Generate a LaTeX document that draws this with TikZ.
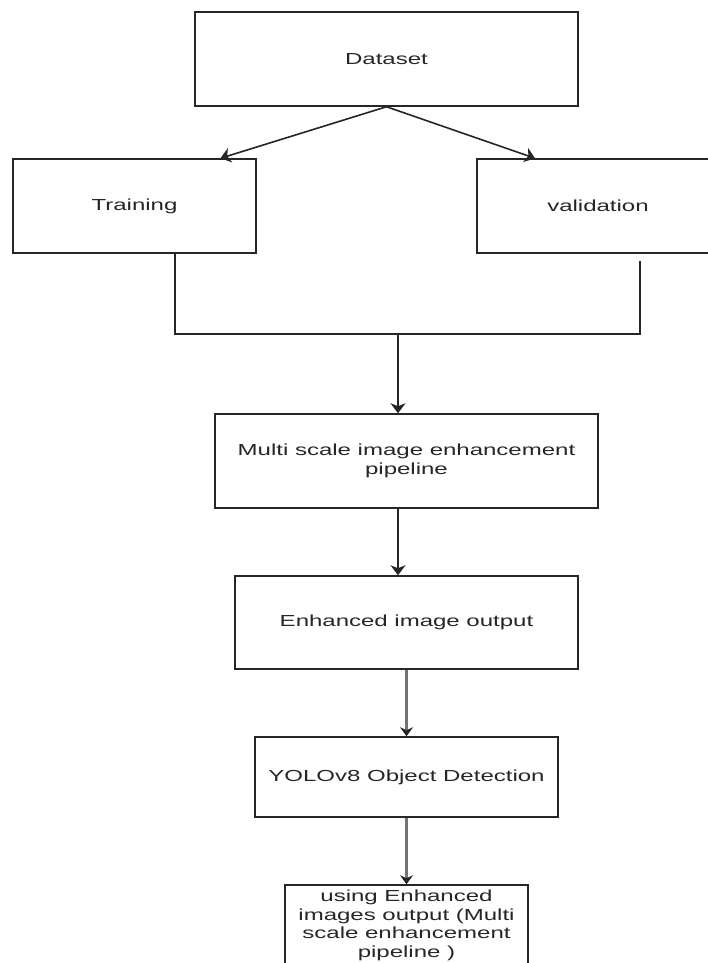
\documentclass[tikz,border=0pt]{standalone}
\usepackage{fontspec}
\setmainfont{Liberation Sans}[FakeStretch=1.5]
\usetikzlibrary{calc}
\usetikzlibrary{arrows.meta}
\tikzset{
  stage/.style = {draw=black!85, line width=1.5pt, rectangle, align=center, inner sep=0pt,
    text=black!85, font=\fontsize{16}{18.5}\selectfont},
  link/.style = {draw=black!85, line width=1.6pt},
  flow/.style = {link, -{Stealth[length=10pt,width=15pt,inset=3pt]}},
  gflow/.style = {draw=black!55, line width=2.4pt, -{Stealth[length=9pt,width=13pt,inset=3pt,color=black!85]}},
}

\begin{document}
\begin{tikzpicture}[x=1pt,y=-1pt]
  \path[use as bounding box, fill=white] (0,0) rectangle (708,963);

  \node[stage, minimum width=383pt, minimum height=94pt] (dataset) at (386.5,59) {Dataset};
  \node[stage, minimum width=243pt, minimum height=94pt] (train) at (134.5,206) {Training};
  \node[stage, minimum width=242pt, minimum height=94pt] (valid) at (598,206) {validation};
  \node[stage, minimum width=383pt, minimum height=94pt] (multi) at (406.5,461) {Multi scale image enhancement\\pipeline};
  \node[stage, minimum width=343pt, minimum height=93pt] (enhanced) at (406.5,622.5) {Enhanced image output};
  \node[stage, minimum width=303pt, minimum height=80pt] (yolo) at (406.5,777) {YOLOv8 Object Detection};
  \node[stage, minimum width=243pt, minimum height=81pt] (result) at (406.5,925.5) {using Enhanced\\images output (Multi\\scale enhancement\\pipeline )};

  \coordinate (join) at (398,334);

  % split of the dataset
  \path[flow] (dataset.south) -- ([xshift=86pt]train.north);
  \path[flow] (dataset.south) -- ([xshift=-63pt]valid.north);

  % both parts go into the pipeline
  \path[link] ([xshift=40.5pt]train.south) |- (join) -| ([xshift=42pt,yshift=-7pt]valid.south);
  \path[flow] (join) -- (multi.north -| join);
  \path[flow] (multi.south -| join) -- (enhanced.north -| join);
  \path[gflow] (enhanced.south) -- (yolo.north);
  \path[gflow] (yolo.south) -- (result.north);
\end{tikzpicture}
\end{document}
